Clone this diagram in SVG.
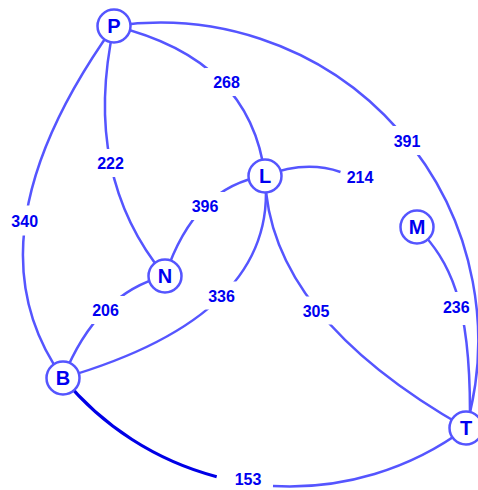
<svg xmlns="http://www.w3.org/2000/svg" width="478" height="490" viewBox="0 0 478 490">
<style>
.e{fill:none;stroke:#5555ff;stroke-width:2.5}
.hl{fill:none;stroke:#0000e6;stroke-width:3.2}
.n circle{fill:#fff;stroke:#5555ff;stroke-width:2.5}
.n text{font-family:"Liberation Sans",Arial,sans-serif;font-weight:bold;font-size:20px;fill:#0000f0;text-anchor:middle}
.lb{font-family:"Liberation Sans",Arial,sans-serif;font-weight:bold;font-size:16px;fill:#0000f0;text-anchor:middle}
</style>
<defs>
<mask id="m268" maskUnits="userSpaceOnUse" x="0" y="0" width="478" height="490"><rect width="478" height="490" fill="#fff"/><rect x="204.5" y="68" width="44" height="28" fill="#000"/></mask>
<mask id="m222" maskUnits="userSpaceOnUse" x="0" y="0" width="478" height="490"><rect width="478" height="490" fill="#fff"/><rect x="88.5" y="149" width="44" height="28" fill="#000"/></mask>
<mask id="m340" maskUnits="userSpaceOnUse" x="0" y="0" width="478" height="490"><rect width="478" height="490" fill="#fff"/><rect x="2.7" y="205.5" width="44" height="30" fill="#000"/></mask>
<mask id="m391" maskUnits="userSpaceOnUse" x="0" y="0" width="478" height="490"><rect width="478" height="490" fill="#fff"/><rect x="385" y="126" width="44" height="29" fill="#000"/></mask>
<mask id="m396" maskUnits="userSpaceOnUse" x="0" y="0" width="478" height="490"><rect width="478" height="490" fill="#fff"/><rect x="183" y="192" width="44" height="28" fill="#000"/></mask>
<mask id="m336" maskUnits="userSpaceOnUse" x="0" y="0" width="478" height="490"><rect width="478" height="490" fill="#fff"/><rect x="199.5" y="281.5" width="44" height="28" fill="#000"/></mask>
<mask id="m305" maskUnits="userSpaceOnUse" x="0" y="0" width="478" height="490"><rect width="478" height="490" fill="#fff"/><rect x="294" y="296.5" width="44" height="28" fill="#000"/></mask>
<mask id="m236" maskUnits="userSpaceOnUse" x="0" y="0" width="478" height="490"><rect width="478" height="490" fill="#fff"/><rect x="434" y="292" width="44" height="33" fill="#000"/></mask>
<mask id="m206" maskUnits="userSpaceOnUse" x="0" y="0" width="478" height="490"><rect width="478" height="490" fill="#fff"/><rect x="83.5" y="296" width="44" height="28" fill="#000"/></mask>
</defs>
<rect width="478" height="490" fill="#fff"/>
<g id="edges">
<path class="e" mask="url(#m268)" d="M114,26 Q250.5,59 265,176"/>
<path class="e" mask="url(#m222)" d="M114,26 Q81.5,175 165,276"/>
<path class="e" mask="url(#m340)" d="M114,26 Q-37.5,238 63,378"/>
<path class="e" mask="url(#m391)" d="M114,26 A318,318 0 0,1 466,428"/>
<path class="e" d="M265,176 Q305,160 340.5,172"/>
<path class="e" mask="url(#m396)" d="M265,176 Q195,186 165,276"/>
<path class="e" mask="url(#m336)" d="M265,176 Q280,315 63,378"/>
<path class="e" mask="url(#m305)" d="M265,176 Q268.5,316 466,428"/>
<path class="e" mask="url(#m236)" d="M417,227 C450,262 470,300 470,412"/>
<path class="e" mask="url(#m206)" d="M165,276 Q97,293 63,378"/>
<path class="hl" d="M63,378 A295.6,295.6 0 0,0 216.7,476.7"/>
<path class="e" d="M273,486 A295.6,295.6 0 0,0 466,428"/>
<text class="lb" x="226.5" y="88">268</text>
<text class="lb" x="110.5" y="169">222</text>
<text class="lb" x="24.7" y="226.5">340</text>
<text class="lb" x="407" y="146.5">391</text>
<text class="lb" x="360" y="183">214</text>
<text class="lb" x="205" y="212">396</text>
<text class="lb" x="221.5" y="301.5">336</text>
<text class="lb" x="316" y="316.5">305</text>
<text class="lb" x="456.3" y="313">236</text>
<text class="lb" x="105.5" y="316">206</text>
<text class="lb" x="248" y="485">153</text>
</g>
<g id="P" class="n"><circle cx="114" cy="26" r="16.5"/><text x="114" y="33">P</text></g>
<g id="L" class="n"><circle cx="265" cy="176" r="16.5"/><text x="265" y="183">L</text></g>
<g id="M" class="n"><circle cx="417" cy="227" r="16.5"/><text x="417" y="234">M</text></g>
<g id="N" class="n"><circle cx="165" cy="276" r="16.5"/><text x="165" y="283">N</text></g>
<g id="B" class="n"><circle cx="63" cy="378" r="16.5"/><text x="63" y="385">B</text></g>
<g id="T" class="n"><circle cx="466" cy="428" r="16.5"/><text x="466" y="435">T</text></g>
</svg>
